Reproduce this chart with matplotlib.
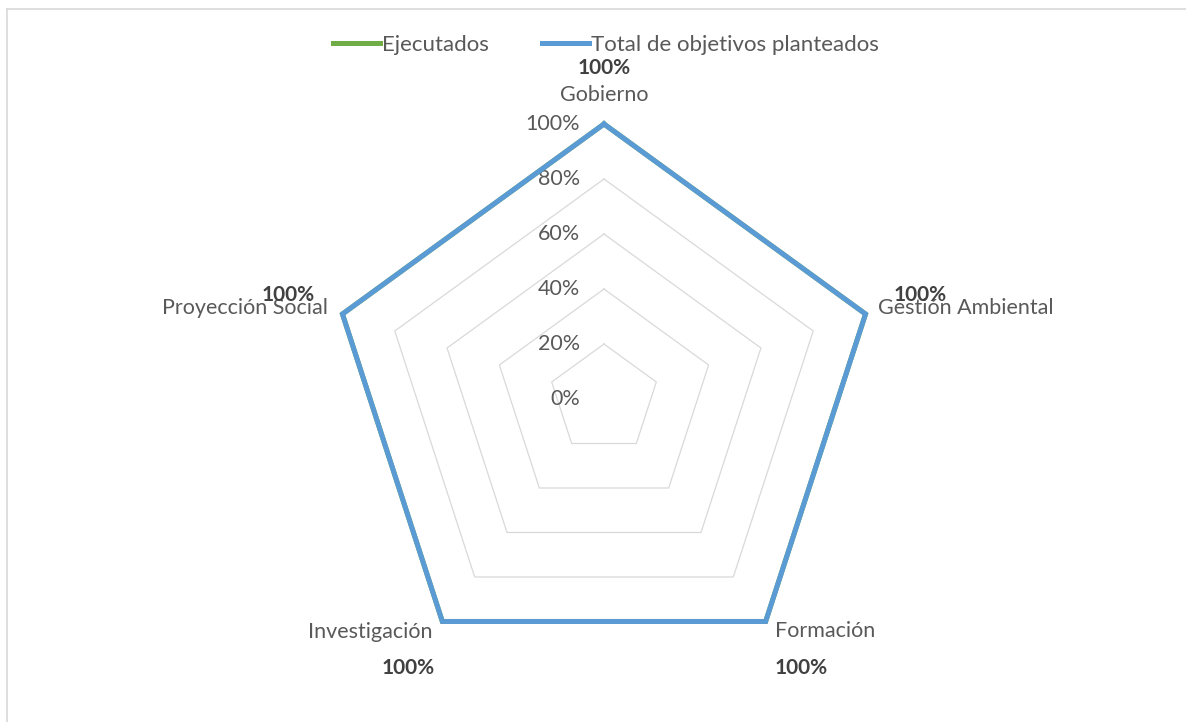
import numpy as np
import matplotlib
matplotlib.use("Agg")
import matplotlib.pyplot as plt
from matplotlib.lines import Line2D

categories = ["Gobierno", "Gestión Ambiental", "Formación", "Investigación", "Proyección Social"]
ejecutados = [1.0, 1.0, 1.0, 1.0, 1.0]
total_objetivos = [1.0, 1.0, 1.0, 1.0, 1.0]
radial_ticks = [0.0, 0.2, 0.4, 0.6, 0.8, 1.0]
radial_tick_labels = ["0%", "20%", "40%", "60%", "80%", "100%"]
series_names = ["Ejecutados", "Total de objetivos planteados"]

plt.rcParams['font.family'] = ['Lato', 'DejaVu Sans']

W, H, DPI = 1186, 722, 100
fig = plt.figure(figsize=(W / DPI, H / DPI), dpi=DPI)
ax = fig.add_axes([0, 0, 1, 1])
cx, cy, R = 604, 399, 275
ax.set_xlim((0 - cx) / R, (W - cx) / R)
ax.set_ylim((cy - H) / R, cy / R)
ax.axis('off')

n = len(categories)
theta = np.arange(n) * 2 * np.pi / n

def xy(vals):
    v = np.asarray(vals, dtype=float)
    x = v * np.sin(theta)
    y = v * np.cos(theta)
    return np.append(x, x[0]), np.append(y, y[0])

# grid
for t in radial_ticks[1:]:
    gx, gy = xy([t] * n)
    ax.plot(gx, gy, color='#D9D9D9', lw=0.9, zorder=1)

# tick labels
for t, lab in zip(radial_ticks, radial_tick_labels):
    ax.annotate(lab, (0, t), xytext=(-17.5, 0), textcoords='offset points',
                ha='right', va='center', fontsize=15.5, color='#595959')

green = '#70AD47'
blue = '#5B9BD5'
ex, ey = xy(ejecutados)
ax.plot(ex, ey, color=green, lw=3.6, zorder=2, solid_joinstyle='miter')
tx, ty = xy(total_objetivos)
ax.plot(tx, ty, color=blue, lw=3.6, zorder=3, solid_joinstyle='miter')

# category labels and data labels (offsets in pixels converted to points)
k = 0.72
cat_off = [((0, 29), 'center'), ((12.5, 6), 'left'), ((9.4, -9.5), 'left'),
           ((-9.4, -10.5), 'right'), ((-14.5, 6), 'right')]
dat_off = [((0, 56), 'center'), ((54.5, 19), 'center'), ((9.4, -46.5), 'left'),
           ((-34, -46.5), 'center'), ((-54.5, 19), 'center')]
for i, cat in enumerate(categories):
    r = total_objetivos[i]
    p = (r * np.sin(theta[i]), r * np.cos(theta[i]))
    (ox, oy), ha = cat_off[i]
    ax.annotate(cat, p, xytext=(ox * k, oy * k), textcoords='offset points',
                ha=ha, va='center', fontsize=15.5, color='#595959', zorder=5)
    (ox, oy), ha = dat_off[i]
    ax.annotate(f"{ejecutados[i]*100:.0f}%", p, xytext=(ox * k, oy * k),
                textcoords='offset points', ha=ha, va='center', fontsize=15,
                fontweight='bold', color='#404040', zorder=6)

# legend
handles = [Line2D([], [], color=green, lw=3.6), Line2D([], [], color=blue, lw=3.6)]
leg = fig.legend(handles, series_names, loc='center', bbox_to_anchor=(606 / W, 1 - 45 / H),
                 ncol=2, frameon=False, fontsize=16, handlelength=2.1, handletextpad=0.1,
                 columnspacing=2.4, labelcolor='#595959')

# chart border
fig.add_artist(Line2D([7 / W, 7 / W], [0, 1 - 9 / H], color='#D9D9D9', lw=1.2,
                      transform=fig.transFigure))
fig.add_artist(Line2D([7 / W, 1], [1 - 9 / H, 1 - 9 / H], color='#D9D9D9', lw=1.2,
                      transform=fig.transFigure))

fig.savefig('out.png', dpi=DPI)
